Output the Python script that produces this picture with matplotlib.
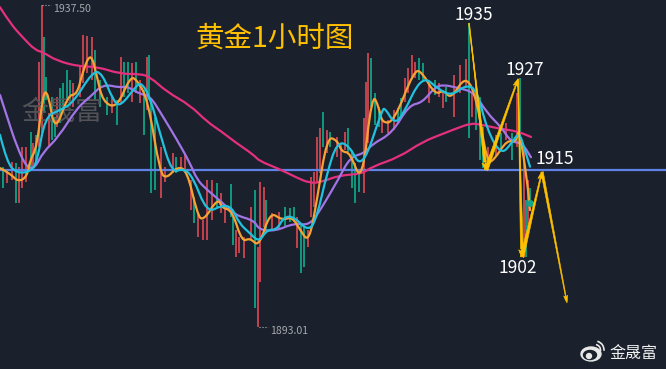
import matplotlib.pyplot as plt
from matplotlib.patches import Ellipse, Arc, PathPatch
from matplotlib.path import Path

plt.rcParams['font.family'] = ['Noto Sans CJK SC', 'DejaVu Sans']

# 蜡烛图 (x位置, 最高, 最低, 颜色 r/g)
bar_x = [3, 7, 12, 16, 19, 22, 26, 31, 33, 36, 39, 42, 44, 46, 49, 52, 55, 57, 60, 63,
         67, 70, 73, 80, 83, 87, 92, 95, 100, 107, 112, 117, 121, 124, 128, 132, 136, 140, 144, 147,
         149, 151, 155, 161, 165, 173, 176, 181, 185, 191, 194, 198, 203, 207, 212, 217, 221, 225, 231, 233,
         236, 239, 244, 251, 255, 258, 260, 264, 266, 272, 279, 285, 290, 294, 297, 301, 304, 308, 311, 314,
         317, 320, 323, 327, 330, 337, 341, 345, 348, 352, 355, 359, 364, 366, 368, 371, 375, 379, 382, 388,
         394, 398, 401, 405, 408, 412, 415, 419, 423, 429, 435, 439, 443, 446, 454, 460, 466, 469, 472, 476,
         480, 483, 488, 496, 501, 506, 512, 517, 520, 524, 526, 528, 530]
bar_high = [1915.2, 1914.7, 1915.8, 1915.7, 1915.2, 1917.9, 1917.9, 1920.0, 1918.5, 1919.6, 1929.6, 1937.5, 1933.1, 1927.6, 1922.6, 1924.8, 1922.1, 1924.8, 1926.1, 1926.7,
            1928.5, 1927.2, 1926.7, 1929.0, 1933.4, 1933.2, 1933.1, 1931.3, 1927.2, 1924.8, 1924.8, 1924.4, 1930.3, 1929.6, 1929.6, 1929.5, 1929.6, 1927.2, 1925.8, 1930.3,
            1930.6, 1924.4, 1922.1, 1917.9, 1915.2, 1917.1, 1916.5, 1916.5, 1917.1, 1913.4, 1911.0, 1908.8, 1907.8, 1913.4, 1913.4, 1912.9, 1911.6, 1909.5, 1912.8, 1908.3,
            1906.5, 1905.5, 1905.5, 1909.6, 1912.0, 1904.1, 1913.1, 1912.4, 1910.6, 1908.8, 1909.0, 1909.6, 1909.5, 1909.6, 1908.3, 1907.4, 1906.9, 1906.5, 1913.8, 1914.5,
            1919.3, 1920.5, 1922.7, 1920.3, 1920.0, 1919.3, 1918.5, 1920.0, 1920.5, 1917.5, 1915.7, 1914.7, 1921.9, 1926.9, 1930.9, 1930.2, 1925.4, 1923.4, 1921.6, 1921.6,
            1923.0, 1923.3, 1924.7, 1927.4, 1928.8, 1930.6, 1929.6, 1930.2, 1929.5, 1926.7, 1927.2, 1926.7, 1925.8, 1926.2, 1927.9, 1929.2, 1930.1, 1935.0, 1925.4, 1926.2,
            1924.8, 1920.7, 1917.9, 1919.6, 1919.8, 1921.2, 1919.8, 1925.4, 1927.4, 1917.9, 1910.6, 1913.4, 1912.3]
bar_low = [1912.3, 1912.9, 1913.4, 1910.2, 1910.2, 1912.3, 1913.1, 1914.7, 1915.2, 1915.7, 1917.9, 1919.8, 1922.6, 1924.4, 1917.9, 1918.9, 1919.3, 1920.7, 1921.2, 1922.6,
           1924.4, 1924.0, 1923.4, 1924.8, 1926.7, 1928.1, 1927.2, 1924.4, 1923.4, 1922.3, 1922.6, 1921.0, 1924.0, 1924.8, 1925.4, 1924.1, 1925.4, 1924.0, 1919.6, 1923.0,
           1924.4, 1911.6, 1912.0, 1910.9, 1913.1, 1914.3, 1914.3, 1914.7, 1914.3, 1909.2, 1907.4, 1905.5, 1905.1, 1905.1, 1907.8, 1909.6, 1908.8, 1907.4, 1908.3, 1904.4,
           1902.7, 1903.3, 1902.6, 1905.1, 1895.7, 1893.01, 1899.3, 1906.9, 1906.5, 1906.5, 1906.5, 1906.9, 1907.6, 1907.8, 1904.0, 1900.5, 1901.4, 1904.1, 1908.3, 1909.6,
           1912.9, 1914.3, 1917.9, 1917.1, 1917.9, 1916.5, 1914.7, 1917.5, 1917.2, 1912.3, 1910.2, 1911.7, 1911.6, 1917.1, 1918.5, 1923.4, 1921.0, 1920.7, 1919.8, 1919.8,
           1920.3, 1921.2, 1922.3, 1924.1, 1925.4, 1927.4, 1927.4, 1927.2, 1927.2, 1924.0, 1925.1, 1924.8, 1923.3, 1924.1, 1922.1, 1925.4, 1926.2, 1919.2, 1922.1, 1920.3,
           1916.1, 1915.0, 1915.2, 1916.5, 1917.5, 1918.9, 1916.1, 1917.9, 1916.5, 1902.7, 1902.7, 1906.9, 1909.2]
bar_dir = ('grrgrrrgrgrrgg' 'rggrgg' 'ggrrrrrggg' 'rgrggrgrgr'
           'gggrrrgrrrgrrrrgrrgg' 'rrrrgrrrgrrgggrggrrr' 'rrgrgrrrggggrrrgggrr'
           'rggrrrrggrgrrgrrrgrg' 'ggrrgrgrgrgrg')

# 均线
pink_x = [0, 10, 23, 35, 43, 57, 80, 97, 120, 140, 150, 167, 190, 207, 222, 235, 254, 259, 279, 295,
          310, 322, 339, 362, 372, 399, 422, 444, 457, 471, 481, 501, 517, 531]
pink_y = [1937.2, 1935.0, 1933.0, 1931.3, 1931.0, 1929.8, 1929.0, 1929.0, 1928.0, 1928.0, 1927.6, 1925.5, 1923.7, 1921.4, 1920.0, 1918.6, 1916.8, 1916.0, 1914.9, 1913.8,
          1912.9, 1913.1, 1914.0, 1914.2, 1915.2, 1916.5, 1918.6, 1919.8, 1920.5, 1921.2, 1921.0, 1920.4, 1920.1, 1919.3]

purple_x = [0, 7, 17, 27, 35, 43, 58, 77, 90, 103, 120, 127, 140, 150, 163, 177, 190, 197, 207, 222,
            235, 254, 259, 275, 294, 310, 322, 339, 350, 365, 372, 392, 409, 422, 435, 444, 457, 474, 487, 501, 511, 522, 531]
purple_y = [1925.1, 1922.1, 1917.9, 1915.0, 1915.0, 1917.2, 1919.2, 1923.3, 1924.8, 1926.6, 1926.1, 1926.3, 1925.2, 1925.0, 1922.1, 1918.9, 1915.7, 1913.4, 1912.0, 1910.3,
            1908.5, 1907.8, 1906.5, 1906.3, 1907.4, 1907.1, 1909.6, 1913.6, 1916.5, 1917.1, 1918.3, 1919.8, 1923.7, 1924.0, 1926.2, 1926.5, 1926.1, 1925.5, 1922.6, 1920.7, 1918.6, 1918.5, 1916.5]

cyan_x = [0, 7, 17, 30, 37, 45, 60, 73, 93, 102, 113, 120, 137, 142, 150, 160, 172, 183, 193, 207,
          222, 232, 239, 250, 259, 267, 277, 284, 294, 309, 317, 327, 337, 349, 362, 382, 385, 394, 402, 422,
          439, 452, 466, 477, 487, 501, 512, 519, 524, 530]
cyan_y = [1919.6, 1915.7, 1914.3, 1914.5, 1915.7, 1922.1, 1923.0, 1924.0, 1928.4, 1928.1, 1924.4, 1923.4, 1926.5, 1926.7, 1924.8, 1919.8, 1914.3, 1915.0, 1913.8, 1908.8,
          1909.9, 1909.6, 1907.4, 1906.0, 1904.8, 1906.5, 1906.5, 1908.3, 1908.3, 1906.2, 1908.3, 1914.3, 1918.6, 1918.2, 1914.7, 1923.0, 1923.3, 1921.2, 1922.1, 1927.9,
          1925.8, 1925.0, 1926.5, 1925.8, 1920.3, 1916.8, 1918.5, 1920.0, 1917.9, 1915.2]

orange_x = [0, 10, 18, 27, 30, 37, 43, 48, 55, 68, 77, 83, 91, 97, 103, 117, 130, 137, 148, 160,
            167, 177, 187, 197, 203, 218, 222, 232, 242, 250, 259, 270, 282, 292, 300, 309, 317, 327, 337, 342,
            350, 362, 372, 379, 382, 394, 414, 422, 435, 444, 451, 466, 477, 487, 494, 507, 516, 519, 527, 530]
orange_y = [1915.0, 1914.3, 1913.1, 1913.8, 1916.1, 1917.9, 1925.4, 1925.5, 1919.8, 1925.1, 1925.1, 1928.5, 1931.0, 1927.6, 1924.1, 1923.3, 1927.6, 1927.2, 1924.4, 1914.3,
            1913.6, 1915.2, 1914.7, 1908.8, 1907.6, 1910.9, 1909.5, 1909.2, 1904.8, 1905.4, 1904.1, 1909.0, 1907.8, 1908.3, 1906.5, 1904.7, 1910.6, 1919.3, 1918.9, 1917.2,
            1917.2, 1912.7, 1925.4, 1923.4, 1921.2, 1921.4, 1928.5, 1928.3, 1925.1, 1925.8, 1924.5, 1927.9, 1924.4, 1915.7, 1916.1, 1918.9, 1918.5, 1920.7, 1913.4, 1909.2]

level_1915 = 1914.7
last_x, last_price = 530, 1910.2

# 手绘箭头的折点
path_x = [469, 486, 518, 522, 542, 567]
path_y = [1935.0, 1914.7, 1927.3, 1902.7, 1914.5, 1896.4]

peak_labels = ['1935', '1927', '1915', '1902']
peak_x = [474, 525, 555, 518]
peak_y = [1936.1, 1928.5, 1916.3, 1901.2]

bg = '#1a202c'
up_col = '#c2434f'
down_col = '#0f9a80'
yellow = '#ffc000'


def smooth_line(ax, xs, ys, color, zorder):
    # 数据点作为二次贝塞尔控制点, 线条不再有折角
    verts = [(xs[0], ys[0])]
    codes = [Path.MOVETO]
    for i in range(1, len(xs) - 1):
        verts.append((xs[i], ys[i]))
        verts.append(((xs[i] + xs[i + 1]) / 2, (ys[i] + ys[i + 1]) / 2))
        codes += [Path.CURVE3, Path.CURVE3]
    verts.append((xs[-1], ys[-1]))
    codes.append(Path.LINETO)
    ax.add_patch(PathPatch(Path(verts, codes), fc='none', ec=color, lw=1.6, zorder=zorder, capstyle='round'))


fig = plt.figure(figsize=(6.66, 3.69), dpi=100, facecolor=bg)
ax = fig.add_axes([0, 0, 1, 1], facecolor=bg)
ax.set_xlim(0, 666)
ax.set_ylim(1887.28, 1938.2)
ax.axis('off')

bar_colors = [up_col if c == 'r' else down_col for c in bar_dir]
ax.vlines(bar_x, bar_low, bar_high, colors=bar_colors, lw=1.4, zorder=2)

ax.text(62, 1922.7, '金晟富', color='#525357', fontsize=19.5, ha='center', va='center', zorder=3)

ax.axhline(level_1915, color='#5f82e6', lw=1.6, zorder=4)

smooth_line(ax, pink_x, pink_y, '#e4307e', 5)
smooth_line(ax, purple_x, purple_y, '#a274e6', 6)
smooth_line(ax, orange_x, orange_y, '#f7a334', 7)
smooth_line(ax, cyan_x, cyan_y, '#22c1dd', 8)
ax.plot([last_x], [last_price], 'o', color='#12a58c', ms=4, zorder=9)

# 第1,3段由细变粗: wedge 的粗端放在箭头终点, 再叠一个尖头
wedge_seg = [0, 2]
arrow_tail = [0.08, 0.3, 0.08, 0.3, 0.2]
arrow_head = [0.5, 0.4, 0.5, 0.4, 0.32]
for i in range(len(path_x) - 1):
    start = (path_x[i], path_y[i])
    end = (path_x[i + 1], path_y[i + 1])
    if i in wedge_seg:
        ax.annotate('', xy=start, xytext=end,
                    arrowprops=dict(arrowstyle='wedge,tail_width=0.22,shrink_factor=0.5',
                                    color=yellow, lw=0.4, shrinkA=6, shrinkB=0, mutation_scale=9),
                    zorder=10)
    ax.annotate('', xy=end, xytext=start,
                arrowprops=dict(arrowstyle='fancy,head_length=0.6,head_width=%s,tail_width=%s' % (arrow_head[i], arrow_tail[i]),
                                color=yellow, lw=0.4, shrinkA=0, shrinkB=0, mutation_scale=9),
                zorder=10)

for lab, x, y in zip(peak_labels, peak_x, peak_y):
    ax.text(x, y, lab, color='white', fontsize=12.5, ha='center', va='center', zorder=11)

ax.text(275, 1932.9, '黄金1小时图', color=yellow, fontsize=20.5, ha='center', va='center', zorder=11)

# 最高最低价标注
ax.plot([42, 51], [1937.5, 1937.5], ':', color='#b0b3b8', lw=0.8, zorder=3)
ax.text(53, 1936.9, '1937.50', color='#a5a8ad', fontsize=7.6, ha='left', va='center', zorder=3)
ax.plot([259, 268], [1893.01, 1893.01], ':', color='#b0b3b8', lw=0.8, zorder=3)
ax.text(270, 1892.5, '1893.01', color='#a5a8ad', fontsize=7.6, ha='left', va='center', zorder=3)

# 右下角微博水印 (像素坐标)
ov = fig.add_axes([0, 0, 1, 1], facecolor='none')
ov.set_xlim(0, 666)
ov.set_ylim(369, 0)
ov.axis('off')
ov.add_patch(Ellipse((591, 354), 20, 14, color='#e8e8e8', zorder=2))
ov.add_patch(Ellipse((590, 355), 13, 9, color=bg, zorder=3))
ov.add_patch(Ellipse((589, 356), 5, 5, color='#e8e8e8', zorder=4))
ov.add_patch(Arc((595, 350), 11, 11, theta1=-80, theta2=10, color='#e8e8e8', lw=1.2, zorder=4))
ov.add_patch(Arc((595, 350), 18, 18, theta1=-75, theta2=5, color='#e8e8e8', lw=1.2, zorder=4))
ov.text(633, 354, '金晟富', color='#f0f0f0', fontsize=11.5, ha='center', va='center')

plt.savefig('out.png', dpi=100, facecolor=bg)
